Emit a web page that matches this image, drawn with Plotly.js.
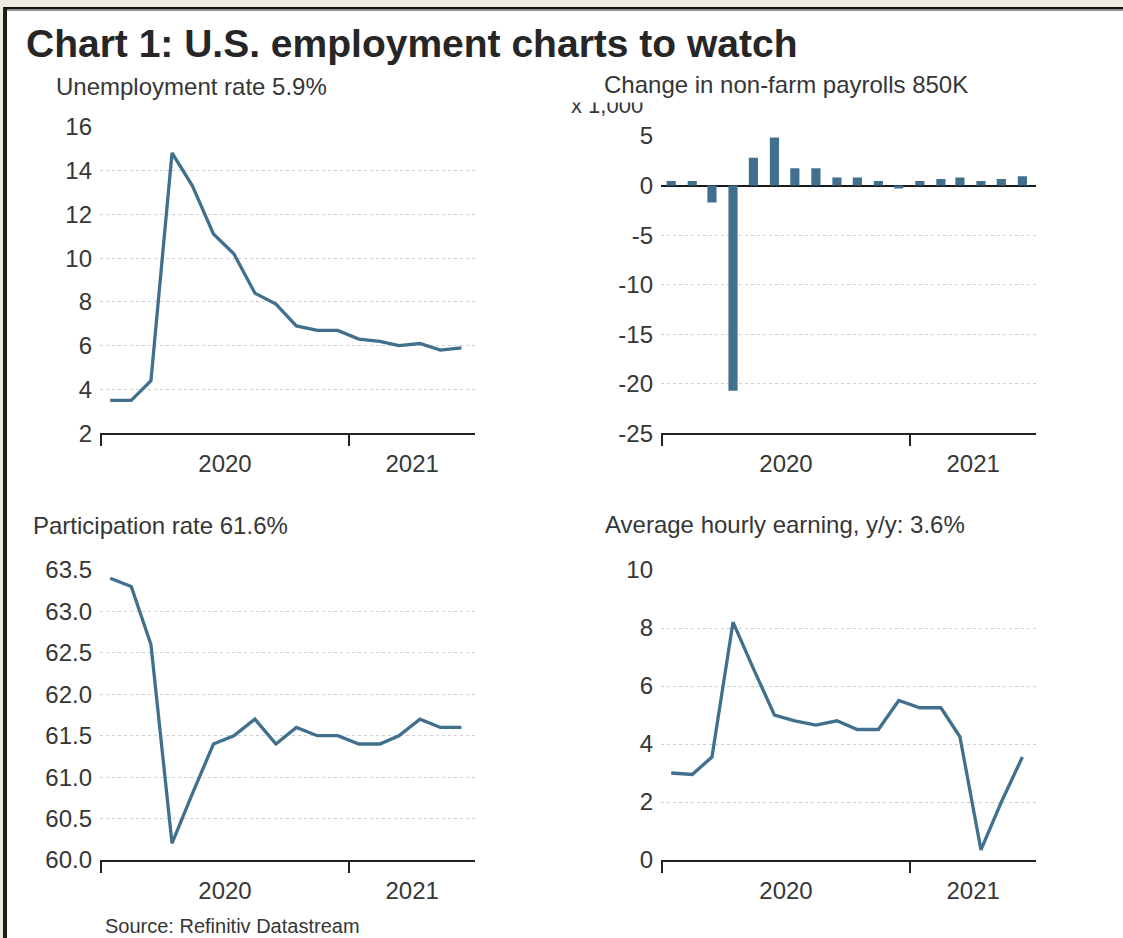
<!DOCTYPE html>
<html><head><meta charset="utf-8">
<script src="https://cdn.plot.ly/plotly-3.0.1.min.js"></script>
<style>
html,body{margin:0;padding:0;width:1123px;height:938px;overflow:hidden;background:#eeebe0;}
#frame{position:absolute;left:3px;top:7px;right:0;bottom:0;background:#fff;border-left:4px solid #1e1e1e;border-top:2px solid #111;}
#frame2{position:absolute;left:7px;top:9px;right:0;height:2px;background:#8f8f8f;}
#chart{position:absolute;left:0;top:0;width:1123px;height:938px;}
</style></head>
<body><div id="frame"></div><div id="frame2"></div><div id="chart"></div>
<script>
// ---- data (monthly, Jan 2020 - Jun 2021) ----
const months = ['2020-01-15','2020-02-15','2020-03-15','2020-04-15','2020-05-15','2020-06-15',
  '2020-07-15','2020-08-15','2020-09-15','2020-10-15','2020-11-15','2020-12-15',
  '2021-01-15','2021-02-15','2021-03-15','2021-04-15','2021-05-15','2021-06-15'];
const unemployment = [3.5,3.5,4.4,14.8,13.3,11.1,10.2,8.4,7.9,6.9,6.7,6.7,6.3,6.2,6.0,6.1,5.8,5.9];
const payrolls = [0.45,0.45,-1.7,-20.7,2.8,4.85,1.75,1.75,0.8,0.8,0.45,-0.3,0.45,0.65,0.8,0.45,0.65,0.95];
const participation = [63.4,63.3,62.6,60.2,60.8,61.4,61.5,61.7,61.4,61.6,61.5,61.5,61.4,61.4,61.5,61.7,61.6,61.6];
const earnings = [3.0,2.95,3.55,8.2,6.6,5.0,4.8,4.65,4.8,4.5,4.5,5.5,5.25,5.25,4.25,0.35,2.0,3.55];
const yearStarts = ['2020-01-01','2021-01-01'];
const yearLabels = ['2020','2021'];
const payrollTickVals = [-25,-20,-15,-10,-5,0,5];
const payrollTickText = ['-25','-20','-15','-10','-5','0','5'];
const mainTitle = 'Chart 1: U.S. employment charts to watch';
const subTitles = ['Unemployment rate 5.9%','Change in non-farm payrolls 850K','Participation rate 61.6%','Average hourly earning, y/y: 3.6%'];
const unitNote = 'x 1,000';
const sourceNote = 'Source: Refinitiv Datastream';

// ---- styling ----
const W = 1123, H = 938;
const FONT = '"Liberation Sans", Arial, sans-serif';
const TXT = '#363636';
const BLUE = '#41708f';
const xRange = ['2019-12-31','2021-07-05'];
const px = v => v / W;
const py = v => 1 - v / H;

function toStr(ms){ return new Date(ms).toISOString().slice(0,19).replace('T',' '); }
function labelPositions(){
  const r0 = Date.parse(xRange[0]), r1 = Date.parse(xRange[1]);
  const b = yearStarts.map(s => Date.parse(s));
  return b.map((s,i) => {
    const e = i+1 < b.length ? b[i+1] : r1;
    return toStr((Math.max(s,r0) + Math.min(e,r1)) / 2);
  });
}
const labPos = labelPositions();

function xAxis(dom, anchor){
  return {
    domain: dom, anchor: anchor, type: 'date', range: xRange,
    showline: true, linecolor: '#222', linewidth: 2,
    showgrid: false, zeroline: false,
    tickmode: 'array', tickvals: labPos, ticktext: yearLabels,
    ticks: 'outside', ticklen: 8, tickcolor: 'rgba(0,0,0,0)',
    tickfont: {family: FONT, size: 24, color: TXT},
    minor: {tickmode: 'array', tickvals: yearStarts, ticks: 'outside', ticklen: 11, tickwidth: 2, tickcolor: '#222', showgrid: false}
  };
}
function yAxis(dom, anchor, range, dtick, extra){
  return Object.assign({
    domain: dom, anchor: anchor, range: range, dtick: dtick, tick0: range[0],
    showline: false, zeroline: false, ticks: '', ticklabelstandoff: 7,
    showgrid: true, gridcolor: '#cfcfcf', gridwidth: 1, griddash: 'dot',
    tickfont: {family: FONT, size: 24, color: TXT}
  }, extra || {});
}

const xL = [px(100), px(475)], xR = [px(661), px(1036)];
const yTopL = [py(433.3), py(126.7)], yTopR = [py(433.3), py(136)];
const yBot = [py(860), py(570)];

const traces = [
  {type:'scatter', mode:'lines', x: months, y: unemployment, xaxis:'x', yaxis:'y', line:{color:BLUE, width:3.3}},
  {type:'bar', x: months, y: payrolls, xaxis:'x2', yaxis:'y2', width: 13.5*864e5, marker:{color:BLUE, line:{width:0}}},
  {type:'scatter', mode:'lines', x: months, y: participation, xaxis:'x3', yaxis:'y3', line:{color:BLUE, width:3.3}},
  {type:'scatter', mode:'lines', x: months, y: earnings, xaxis:'x4', yaxis:'y4', line:{color:BLUE, width:3.3}}
];

function ann(text, x, yc, size, extra){
  return Object.assign({text: text, xref:'paper', yref:'paper', x: px(x), y: py(yc),
    xanchor:'left', yanchor:'middle', showarrow:false, borderpad:0,
    font:{family: FONT, size: size, color: TXT}}, extra || {});
}

const layout = {
  width: W, height: H, margin:{l:0,r:0,t:0,b:0,pad:0},
  paper_bgcolor:'rgba(0,0,0,0)', plot_bgcolor:'rgba(0,0,0,0)', showlegend:false,
  xaxis: xAxis(xL,'y'), yaxis: yAxis(yTopL,'x',[2,16],2),
  xaxis2: xAxis(xR,'y2'), yaxis2: yAxis(yTopR,'x2',[-25,5],5,
     {tickmode:'array', tickvals: payrollTickVals, ticktext: payrollTickText, zeroline:true, zerolinecolor:'#1a1a1a', zerolinewidth:2}),
  xaxis3: xAxis(xL,'y3'), yaxis3: yAxis(yBot,'x3',[60,63.5],0.5,{tickformat:'.1f'}),
  xaxis4: xAxis(xR,'y4'), yaxis4: yAxis(yBot,'x4',[0,10],2),
  annotations: [
    ann(mainTitle, 25, 43.5, 39, {font:{family:FONT, size:39, color:'#262626', weight:'bold'}}),
    ann(subTitles[0], 55, 86.7, 24),
    ann(unitNote, 570, 105.4, 22),
    {text:'\u00a0', xref:'paper', yref:'paper', x:px(560), y:py(103), xanchor:'left', yanchor:'bottom',
      width: 440, height: 30, bgcolor:'#ffffff', showarrow:false, borderpad:0},
    ann(subTitles[1], 603, 84, 24),
    ann(subTitles[2], 32, 525, 24),
    ann(subTitles[3], 604, 524, 24),
    ann(sourceNote, 104, 926, 20)
  ]
};

Plotly.newPlot('chart', traces, layout, {staticPlot:true, displayModeBar:false});
</script></body></html>
